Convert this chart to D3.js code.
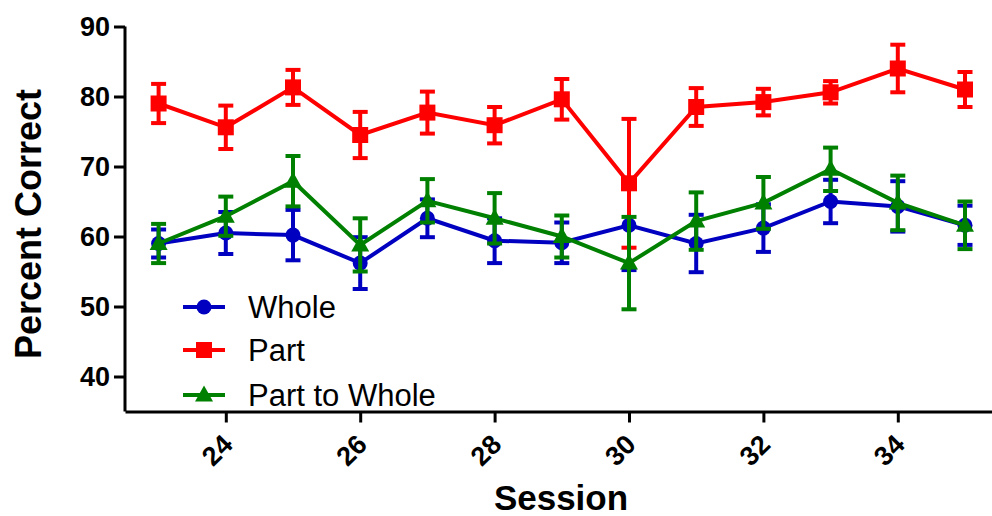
<!DOCTYPE html>
<html>
<head>
<meta charset="utf-8">
<script src="https://cdn.jsdelivr.net/npm/d3@7"></script>
<style>
  body { margin: 0; background: #fff; }
  svg { display: block; font-family: "Liberation Sans", Arial, sans-serif; }
  .axis path, .axis line { stroke: #000; stroke-width: 3; }
  .axis text { font-weight: bold; font-size: 27px; fill: #000; }
</style>
</head>
<body>
<svg width="992" height="516"></svg>
<script>
// sessions on the x axis
var sessions = [23, 24, 25, 26, 27, 28, 29, 30, 31, 32, 33, 34, 35];

// mean percent correct and error bar half-length per group
var whole    = [59.0, 60.5, 60.2, 56.2, 62.6, 59.4, 59.1, 61.6, 59.0, 61.2, 65.0, 64.3, 61.6];
var wholeErr = [2.0, 3.0, 3.6, 3.7, 2.7, 3.2, 2.9, 6.4, 4.1, 3.4, 3.1, 3.6, 2.8];
var part     = [79.0, 75.6, 81.3, 74.5, 77.7, 75.9, 79.6, 67.6, 78.5, 79.2, 80.6, 84.0, 81.0];
var partErr  = [2.8, 3.1, 2.5, 3.3, 3.0, 2.6, 2.9, 9.2, 2.7, 1.9, 1.6, 3.4, 2.5];
var ptw      = [59.0, 62.9, 67.9, 58.8, 65.1, 62.6, 60.0, 56.2, 62.2, 64.8, 69.6, 64.8, 61.6];
var ptwErr   = [2.8, 2.8, 3.6, 3.8, 3.1, 3.6, 3.0, 6.6, 4.1, 3.7, 3.1, 3.9, 3.4];

var xTicks = [24, 26, 28, 30, 32, 34];
var yTicks = [40, 50, 60, 70, 80, 90];

var series = [
    { name: "Whole", values: whole, err: wholeErr, color: "#0000c0", shape: "circle" },
    { name: "Part", values: part, err: partErr, color: "#ff0000", shape: "square" },
    { name: "Part to Whole", values: ptw, err: ptwErr, color: "#008000", shape: "triangle" }
];

var svg = d3.select("svg");

var x = d3.scaleLinear().domain([22.5, 35.5]).range([125, 998.6]);
var y = d3.scaleLinear().domain([35, 90]).range([411.5, 26.5]);

// axes
svg.append("g")
    .attr("class", "axis")
    .attr("transform", "translate(125,0)")
    .call(d3.axisLeft(y).tickValues(yTicks).tickSize(11).tickSizeOuter(0).tickPadding(4))
    .call(g => g.select(".domain").attr("d", "M0," + y(35) + "V" + y(90)));

var xAxis = svg.append("g")
    .attr("class", "axis")
    .attr("transform", "translate(0," + y(35) + ")")
    .call(d3.axisBottom(x).tickValues(xTicks).tickSize(11).tickSizeOuter(0));

xAxis.selectAll(".tick text")
    .attr("y", 0).attr("dy", null)
    .attr("text-anchor", "middle")
    .attr("dominant-baseline", "central")
    .attr("transform", "translate(-9,39) rotate(-45)");

// axis titles
svg.append("text")
    .attr("transform", "translate(41,224) rotate(-90)")
    .attr("text-anchor", "middle")
    .attr("font-weight", "bold")
    .attr("font-size", "36px")
    .text("Percent Correct");

svg.append("text")
    .attr("x", 561).attr("y", 510)
    .attr("text-anchor", "middle")
    .attr("font-weight", "bold")
    .attr("font-size", "35px")
    .text("Session");

function drawMarker(g, shape, color) {
    if (shape === "circle") {
        g.append("circle").attr("r", 7.5).attr("fill", color);
    } else if (shape === "square") {
        g.append("rect").attr("x", -8).attr("y", -8).attr("width", 16).attr("height", 16).attr("fill", color);
    } else {
        g.append("path").attr("d", "M0,-9.5L9,6.5L-9,6.5Z").attr("fill", color);
    }
}

var line = d3.line()
    .x(function (d) { return x(d.s); })
    .y(function (d) { return y(d.v); });

series.forEach(function (sr) {
    var pts = sessions.map(function (s, i) { return { s: s, v: sr.values[i], e: sr.err[i] }; });
    var g = svg.append("g").attr("class", "series");

    // error bars
    var eb = g.selectAll(".err").data(pts).enter().append("g").attr("class", "err")
        .attr("stroke", sr.color).attr("stroke-width", 4);
    eb.append("line")
        .attr("x1", d => x(d.s)).attr("x2", d => x(d.s))
        .attr("y1", d => y(d.v + d.e)).attr("y2", d => y(d.v - d.e));
    eb.append("line")
        .attr("x1", d => x(d.s) - 7.5).attr("x2", d => x(d.s) + 7.5)
        .attr("y1", d => y(d.v + d.e)).attr("y2", d => y(d.v + d.e));
    eb.append("line")
        .attr("x1", d => x(d.s) - 7.5).attr("x2", d => x(d.s) + 7.5)
        .attr("y1", d => y(d.v - d.e)).attr("y2", d => y(d.v - d.e));

    g.append("path")
        .datum(pts)
        .attr("d", line)
        .attr("fill", "none")
        .attr("stroke", sr.color)
        .attr("stroke-width", 4);

    g.selectAll(".pt").data(pts).enter().append("g").attr("class", "pt")
        .attr("transform", d => "translate(" + x(d.s) + "," + y(d.v) + ")")
        .each(function () { drawMarker(d3.select(this), sr.shape, sr.color); });
});

// legend
var legend = svg.append("g").attr("class", "legend");
series.forEach(function (sr, i) {
    var ly = [307, 350, 395][i];
    var row = legend.append("g").attr("transform", "translate(0," + ly + ")");
    row.append("line").attr("x1", 183).attr("x2", 225).attr("y1", 0).attr("y2", 0)
        .attr("stroke", sr.color).attr("stroke-width", 4);
    drawMarker(row.append("g").attr("transform", "translate(204,0)"), sr.shape, sr.color);
    row.append("text")
        .attr("x", 248).attr("y", 0).attr("dy", "0.36em")
        .attr("font-size", "31px")
        .text(sr.name);
});
</script>
</body>
</html>
